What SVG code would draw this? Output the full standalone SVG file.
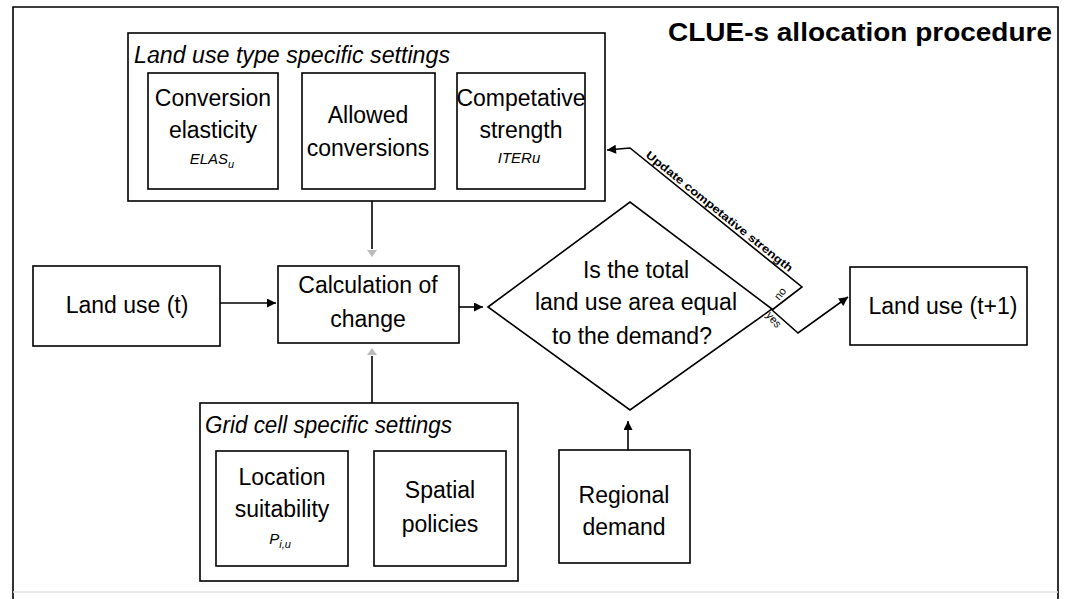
<svg xmlns="http://www.w3.org/2000/svg" width="1066" height="599" viewBox="0 0 1066 599">
<style>
.bx{fill:none;stroke:#000;stroke-width:1.6}
.ln{fill:none;stroke:#000;stroke-width:1.6}
.t{font-family:"Liberation Sans",Arial,Helvetica,sans-serif;font-size:23px;fill:#000;text-anchor:middle}
.it{font-style:italic}
.st{text-anchor:start}
.sm{font-size:15px}
.tiny{font-size:11px}
</style>
<defs>
<marker id="ah" viewBox="0 0 10 10" refX="10" refY="5" markerWidth="11" markerHeight="9" markerUnits="userSpaceOnUse" orient="auto"><path d="M0,0 L10,5 L0,10 z" fill="#000"/></marker>
</defs>
<rect width="1066" height="599" fill="#fff"/>
<g id="frame">
<path class="ln" d="M13,599 V7 H1058 V599"/>
<line x1="13" y1="592" x2="1058" y2="592" stroke="#e2e2e2" stroke-width="1.5"/>
</g>
<g id="title">
<text class="t" x="668" y="41" style="font-weight:bold;font-size:25px;text-anchor:start" textLength="384" lengthAdjust="spacingAndGlyphs">CLUE-s allocation procedure</text>
</g>
<g id="land-use-type-settings">
<rect class="bx" x="128" y="33" width="477" height="168"/>
<text class="t it st" x="134" y="63" textLength="316" lengthAdjust="spacingAndGlyphs">Land use type specific settings</text>
</g>
<g id="conversion-elasticity">
<rect class="bx" x="148" y="73" width="130" height="116"/>
<text class="t" x="213" y="106">Conversion</text>
<text class="t" x="213" y="138">elasticity</text>
<text class="t it sm" x="212" y="164">ELAS<tspan font-size="11" dy="4">u</tspan></text>
</g>
<g id="allowed-conversions">
<rect class="bx" x="302" y="73" width="133" height="116"/>
<text class="t" x="368" y="123">Allowed</text>
<text class="t" x="368" y="156">conversions</text>
</g>
<g id="competative-strength">
<rect class="bx" x="457" y="73" width="128" height="116"/>
<text class="t" x="521" y="106">Competative</text>
<text class="t" x="521" y="138">strength</text>
<text class="t it sm" x="519" y="163">ITERu</text>
</g>
<g id="land-use-t">
<rect class="bx" x="33" y="266" width="187" height="80"/>
<text class="t" x="127" y="313">Land use (t)</text>
</g>
<g id="calculation-of-change">
<rect class="bx" x="278" y="266" width="181" height="77"/>
<text class="t" x="368" y="293">Calculation of</text>
<text class="t" x="368" y="327">change</text>
</g>
<g id="decision">
<path class="bx" d="M488,307 L630,202 L772,309 L630,410 Z"/>
<text class="t" x="636" y="278">Is the total</text>
<text class="t" x="636" y="310">land use area equal</text>
<text class="t" x="632" y="344">to the demand?</text>
</g>
<g id="land-use-t1">
<rect class="bx" x="850" y="267" width="177" height="78"/>
<text class="t" x="943" y="314">Land use (t+1)</text>
</g>
<g id="grid-cell-settings">
<rect class="bx" x="200" y="403" width="318" height="178"/>
<text class="t it st" x="205" y="433" textLength="247" lengthAdjust="spacingAndGlyphs">Grid cell specific settings</text>
</g>
<g id="location-suitability">
<rect class="bx" x="216" y="451" width="132" height="115"/>
<text class="t" x="282" y="485">Location</text>
<text class="t" x="282" y="517">suitability</text>
<text class="t it sm" x="280" y="544">P<tspan font-size="11" dy="4">i,u</tspan></text>
</g>
<g id="spatial-policies">
<rect class="bx" x="374" y="451" width="132" height="115"/>
<text class="t" x="440" y="498">Spatial</text>
<text class="t" x="440" y="532">policies</text>
</g>
<g id="regional-demand">
<rect class="bx" x="559" y="450" width="131" height="113"/>
<text class="t" x="624" y="503">Regional</text>
<text class="t" x="624" y="535">demand</text>
</g>
<g id="connectors">
<line class="ln" x1="220" y1="303" x2="276" y2="303" marker-end="url(#ah)"/>
<line class="ln" x1="459" y1="307" x2="483" y2="307" marker-end="url(#ah)"/>
<line class="ln" x1="372" y1="201" x2="372" y2="249"/>
<path d="M367,250 L372,257 L377,250 Z" fill="#bbb"/>
<line class="ln" x1="372" y1="403" x2="372" y2="356"/>
<path d="M367,355 L372,348 L377,355 Z" fill="#bbb"/>
<line class="ln" x1="628" y1="450" x2="628" y2="421" marker-end="url(#ah)"/>
<polyline class="ln" points="772,310 802,287 630,148 607,150" marker-end="url(#ah)"/>
<polyline class="ln" points="772,310 798,333 848,297" marker-end="url(#ah)"/>
<text class="t st tiny" transform="translate(630,148) rotate(38.9)" x="17" y="-3" style="font-weight:bold" textLength="185" lengthAdjust="spacingAndGlyphs">Update competative strength</text>
<text class="t tiny" transform="translate(783,296) rotate(-52)">no</text>
<text class="t tiny" transform="translate(771,322) rotate(50)">yes</text>
</g>
</svg>
